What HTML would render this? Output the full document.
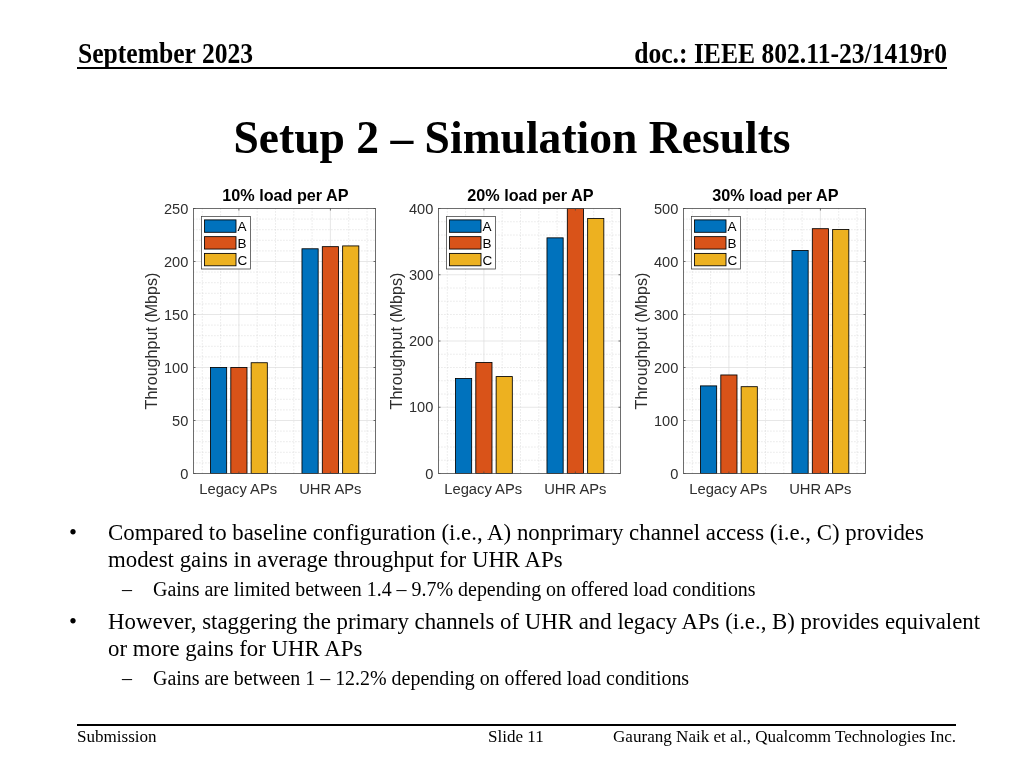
<!DOCTYPE html>
<html><head><meta charset="utf-8"><title>Setup 2 – Simulation Results</title>
<style>
html,body{margin:0;padding:0;background:#fff;}
body{width:1024px;height:768px;position:relative;overflow:hidden;font-family:"Liberation Serif",serif;color:#000;}
.abs{position:absolute;white-space:nowrap;}
.hdr{font-weight:bold;font-size:25.6px;line-height:28px;transform:scaleY(1.11);transform-origin:0 21.6px;}
#hl{left:78px;top:40.5px;}
#hr{right:77px;top:40.5px;}
#hline{left:77px;top:67.4px;width:870px;height:1.5px;background:#000;}
#title{left:0;width:1024px;text-align:center;top:112px;font-weight:bold;font-size:45.58px;line-height:52px;transform:scaleY(1.015);transform-origin:0 41px;}
.b1{font-size:22.84px;line-height:26px;}
.b2{font-size:19.95px;line-height:22px;}
#fline{left:77px;top:724.2px;width:879px;height:1.6px;background:#000;}
.ft{font-size:17.07px;line-height:18px;top:727.7px;}
svg{position:absolute;left:0;top:0;}
svg text{font-family:"Liberation Sans",sans-serif;fill:#2e2e2e;}
.mj{stroke:#dcdcdc;stroke-width:0.7;}
.mn{stroke:#c8c8c8;stroke-width:0.7;stroke-dasharray:0.9 2.1;}
.tk{stroke:#4a4a4a;stroke-width:0.8;}
.tl{font-size:14.6px;}
.xl{font-size:14.75px;}
.yl{font-size:16.1px;}
.tt{font-size:16.2px;font-weight:bold;fill:#000 !important;}
.lg{font-size:13.5px;fill:#000 !important;}
</style></head><body>
<div class="abs hdr" id="hl">September 2023</div>
<div class="abs hdr" id="hr">doc.: IEEE 802.11-23/1419r0</div>
<div class="abs" id="hline"></div>
<div class="abs" id="title">Setup 2 – Simulation Results</div>
<svg width="1024" height="768" viewBox="0 0 1024 768">
<rect x="193.5" y="208.5" width="182.0" height="265.0" fill="#fff"/>
<line x1="193.5" x2="375.5" y1="462.90" y2="462.90" class="mn"/>
<line x1="193.5" x2="375.5" y1="452.30" y2="452.30" class="mn"/>
<line x1="193.5" x2="375.5" y1="441.70" y2="441.70" class="mn"/>
<line x1="193.5" x2="375.5" y1="431.10" y2="431.10" class="mn"/>
<line x1="193.5" x2="375.5" y1="409.90" y2="409.90" class="mn"/>
<line x1="193.5" x2="375.5" y1="399.30" y2="399.30" class="mn"/>
<line x1="193.5" x2="375.5" y1="388.70" y2="388.70" class="mn"/>
<line x1="193.5" x2="375.5" y1="378.10" y2="378.10" class="mn"/>
<line x1="193.5" x2="375.5" y1="356.90" y2="356.90" class="mn"/>
<line x1="193.5" x2="375.5" y1="346.30" y2="346.30" class="mn"/>
<line x1="193.5" x2="375.5" y1="335.70" y2="335.70" class="mn"/>
<line x1="193.5" x2="375.5" y1="325.10" y2="325.10" class="mn"/>
<line x1="193.5" x2="375.5" y1="303.90" y2="303.90" class="mn"/>
<line x1="193.5" x2="375.5" y1="293.30" y2="293.30" class="mn"/>
<line x1="193.5" x2="375.5" y1="282.70" y2="282.70" class="mn"/>
<line x1="193.5" x2="375.5" y1="272.10" y2="272.10" class="mn"/>
<line x1="193.5" x2="375.5" y1="250.90" y2="250.90" class="mn"/>
<line x1="193.5" x2="375.5" y1="240.30" y2="240.30" class="mn"/>
<line x1="193.5" x2="375.5" y1="229.70" y2="229.70" class="mn"/>
<line x1="193.5" x2="375.5" y1="219.10" y2="219.10" class="mn"/>
<line x1="202.30" x2="202.30" y1="208.5" y2="473.5" class="mn"/>
<line x1="220.60" x2="220.60" y1="208.5" y2="473.5" class="mn"/>
<line x1="257.20" x2="257.20" y1="208.5" y2="473.5" class="mn"/>
<line x1="275.50" x2="275.50" y1="208.5" y2="473.5" class="mn"/>
<line x1="293.80" x2="293.80" y1="208.5" y2="473.5" class="mn"/>
<line x1="312.10" x2="312.10" y1="208.5" y2="473.5" class="mn"/>
<line x1="348.70" x2="348.70" y1="208.5" y2="473.5" class="mn"/>
<line x1="367.00" x2="367.00" y1="208.5" y2="473.5" class="mn"/>
<line x1="193.5" x2="375.5" y1="420.50" y2="420.50" class="mj"/>
<line x1="193.5" x2="375.5" y1="367.50" y2="367.50" class="mj"/>
<line x1="193.5" x2="375.5" y1="314.50" y2="314.50" class="mj"/>
<line x1="193.5" x2="375.5" y1="261.50" y2="261.50" class="mj"/>
<line x1="238.90" x2="238.90" y1="208.5" y2="473.5" class="mj"/>
<line x1="330.40" x2="330.40" y1="208.5" y2="473.5" class="mj"/>
<rect x="210.48" y="367.50" width="16.18" height="106.00" fill="#0072BD" stroke="#000" stroke-width="0.85"/>
<rect x="230.81" y="367.50" width="16.18" height="106.00" fill="#D95319" stroke="#000" stroke-width="0.85"/>
<rect x="251.14" y="362.73" width="16.18" height="110.77" fill="#EDB120" stroke="#000" stroke-width="0.85"/>
<rect x="301.98" y="248.78" width="16.18" height="224.72" fill="#0072BD" stroke="#000" stroke-width="0.85"/>
<rect x="322.31" y="246.66" width="16.18" height="226.84" fill="#D95319" stroke="#000" stroke-width="0.85"/>
<rect x="342.64" y="245.92" width="16.18" height="227.58" fill="#EDB120" stroke="#000" stroke-width="0.85"/>
<rect x="193.5" y="208.5" width="182.0" height="265.0" fill="none" stroke="#4a4a4a" stroke-width="0.8"/>
<line x1="193.5" x2="195.5" y1="473.50" y2="473.50" class="tk"/>
<line x1="375.5" x2="373.5" y1="473.50" y2="473.50" class="tk"/>
<text x="188.3" y="478.60" class="tl" text-anchor="end">0</text>
<line x1="193.5" x2="195.5" y1="420.50" y2="420.50" class="tk"/>
<line x1="375.5" x2="373.5" y1="420.50" y2="420.50" class="tk"/>
<text x="188.3" y="425.60" class="tl" text-anchor="end">50</text>
<line x1="193.5" x2="195.5" y1="367.50" y2="367.50" class="tk"/>
<line x1="375.5" x2="373.5" y1="367.50" y2="367.50" class="tk"/>
<text x="188.3" y="372.60" class="tl" text-anchor="end">100</text>
<line x1="193.5" x2="195.5" y1="314.50" y2="314.50" class="tk"/>
<line x1="375.5" x2="373.5" y1="314.50" y2="314.50" class="tk"/>
<text x="188.3" y="319.60" class="tl" text-anchor="end">150</text>
<line x1="193.5" x2="195.5" y1="261.50" y2="261.50" class="tk"/>
<line x1="375.5" x2="373.5" y1="261.50" y2="261.50" class="tk"/>
<text x="188.3" y="266.60" class="tl" text-anchor="end">200</text>
<line x1="193.5" x2="195.5" y1="208.50" y2="208.50" class="tk"/>
<line x1="375.5" x2="373.5" y1="208.50" y2="208.50" class="tk"/>
<text x="188.3" y="213.60" class="tl" text-anchor="end">250</text>
<line x1="238.90" x2="238.90" y1="473.5" y2="471.5" class="tk"/>
<line x1="238.90" x2="238.90" y1="208.5" y2="210.5" class="tk"/>
<text x="238.20" y="493.6" class="xl" text-anchor="middle">Legacy APs</text>
<line x1="330.40" x2="330.40" y1="473.5" y2="471.5" class="tk"/>
<line x1="330.40" x2="330.40" y1="208.5" y2="210.5" class="tk"/>
<text x="330.30" y="493.6" class="xl" text-anchor="middle">UHR APs</text>
<text transform="translate(157.0,341.0) rotate(-90)" class="yl" text-anchor="middle">Throughput (Mbps)</text>
<text x="285.40" y="200.9" class="tt" text-anchor="middle">10% load per AP</text>
<rect x="201.5" y="216.5" width="49" height="52.5" fill="#fff" stroke="#4a4a4a" stroke-width="0.8"/>
<rect x="204.5" y="219.90" width="31.5" height="12.4" fill="#0072BD" stroke="#000" stroke-width="0.85"/>
<text x="237.4" y="231.10" class="lg">A</text>
<rect x="204.5" y="236.65" width="31.5" height="12.4" fill="#D95319" stroke="#000" stroke-width="0.85"/>
<text x="237.4" y="247.85" class="lg">B</text>
<rect x="204.5" y="253.40" width="31.5" height="12.4" fill="#EDB120" stroke="#000" stroke-width="0.85"/>
<text x="237.4" y="264.60" class="lg">C</text>
<rect x="438.5" y="208.5" width="182.0" height="265.0" fill="#fff"/>
<line x1="438.5" x2="620.5" y1="460.25" y2="460.25" class="mn"/>
<line x1="438.5" x2="620.5" y1="447.00" y2="447.00" class="mn"/>
<line x1="438.5" x2="620.5" y1="433.75" y2="433.75" class="mn"/>
<line x1="438.5" x2="620.5" y1="420.50" y2="420.50" class="mn"/>
<line x1="438.5" x2="620.5" y1="394.00" y2="394.00" class="mn"/>
<line x1="438.5" x2="620.5" y1="380.75" y2="380.75" class="mn"/>
<line x1="438.5" x2="620.5" y1="367.50" y2="367.50" class="mn"/>
<line x1="438.5" x2="620.5" y1="354.25" y2="354.25" class="mn"/>
<line x1="438.5" x2="620.5" y1="327.75" y2="327.75" class="mn"/>
<line x1="438.5" x2="620.5" y1="314.50" y2="314.50" class="mn"/>
<line x1="438.5" x2="620.5" y1="301.25" y2="301.25" class="mn"/>
<line x1="438.5" x2="620.5" y1="288.00" y2="288.00" class="mn"/>
<line x1="438.5" x2="620.5" y1="261.50" y2="261.50" class="mn"/>
<line x1="438.5" x2="620.5" y1="248.25" y2="248.25" class="mn"/>
<line x1="438.5" x2="620.5" y1="235.00" y2="235.00" class="mn"/>
<line x1="438.5" x2="620.5" y1="221.75" y2="221.75" class="mn"/>
<line x1="447.30" x2="447.30" y1="208.5" y2="473.5" class="mn"/>
<line x1="465.60" x2="465.60" y1="208.5" y2="473.5" class="mn"/>
<line x1="502.20" x2="502.20" y1="208.5" y2="473.5" class="mn"/>
<line x1="520.50" x2="520.50" y1="208.5" y2="473.5" class="mn"/>
<line x1="538.80" x2="538.80" y1="208.5" y2="473.5" class="mn"/>
<line x1="557.10" x2="557.10" y1="208.5" y2="473.5" class="mn"/>
<line x1="593.70" x2="593.70" y1="208.5" y2="473.5" class="mn"/>
<line x1="612.00" x2="612.00" y1="208.5" y2="473.5" class="mn"/>
<line x1="438.5" x2="620.5" y1="407.25" y2="407.25" class="mj"/>
<line x1="438.5" x2="620.5" y1="341.00" y2="341.00" class="mj"/>
<line x1="438.5" x2="620.5" y1="274.75" y2="274.75" class="mj"/>
<line x1="483.90" x2="483.90" y1="208.5" y2="473.5" class="mj"/>
<line x1="575.40" x2="575.40" y1="208.5" y2="473.5" class="mj"/>
<rect x="455.48" y="378.56" width="16.18" height="94.94" fill="#0072BD" stroke="#000" stroke-width="0.85"/>
<rect x="475.81" y="362.53" width="16.18" height="110.97" fill="#D95319" stroke="#000" stroke-width="0.85"/>
<rect x="496.14" y="376.58" width="16.18" height="96.92" fill="#EDB120" stroke="#000" stroke-width="0.85"/>
<rect x="546.98" y="237.85" width="16.18" height="235.65" fill="#0072BD" stroke="#000" stroke-width="0.85"/>
<rect x="567.31" y="208.50" width="16.18" height="265.00" fill="#D95319" stroke="#000" stroke-width="0.85"/>
<rect x="587.64" y="218.50" width="16.18" height="255.00" fill="#EDB120" stroke="#000" stroke-width="0.85"/>
<rect x="438.5" y="208.5" width="182.0" height="265.0" fill="none" stroke="#4a4a4a" stroke-width="0.8"/>
<line x1="438.5" x2="440.5" y1="473.50" y2="473.50" class="tk"/>
<line x1="620.5" x2="618.5" y1="473.50" y2="473.50" class="tk"/>
<text x="433.3" y="478.60" class="tl" text-anchor="end">0</text>
<line x1="438.5" x2="440.5" y1="407.25" y2="407.25" class="tk"/>
<line x1="620.5" x2="618.5" y1="407.25" y2="407.25" class="tk"/>
<text x="433.3" y="412.35" class="tl" text-anchor="end">100</text>
<line x1="438.5" x2="440.5" y1="341.00" y2="341.00" class="tk"/>
<line x1="620.5" x2="618.5" y1="341.00" y2="341.00" class="tk"/>
<text x="433.3" y="346.10" class="tl" text-anchor="end">200</text>
<line x1="438.5" x2="440.5" y1="274.75" y2="274.75" class="tk"/>
<line x1="620.5" x2="618.5" y1="274.75" y2="274.75" class="tk"/>
<text x="433.3" y="279.85" class="tl" text-anchor="end">300</text>
<line x1="438.5" x2="440.5" y1="208.50" y2="208.50" class="tk"/>
<line x1="620.5" x2="618.5" y1="208.50" y2="208.50" class="tk"/>
<text x="433.3" y="213.60" class="tl" text-anchor="end">400</text>
<line x1="483.90" x2="483.90" y1="473.5" y2="471.5" class="tk"/>
<line x1="483.90" x2="483.90" y1="208.5" y2="210.5" class="tk"/>
<text x="483.20" y="493.6" class="xl" text-anchor="middle">Legacy APs</text>
<line x1="575.40" x2="575.40" y1="473.5" y2="471.5" class="tk"/>
<line x1="575.40" x2="575.40" y1="208.5" y2="210.5" class="tk"/>
<text x="575.30" y="493.6" class="xl" text-anchor="middle">UHR APs</text>
<text transform="translate(402.0,341.0) rotate(-90)" class="yl" text-anchor="middle">Throughput (Mbps)</text>
<text x="530.40" y="200.9" class="tt" text-anchor="middle">20% load per AP</text>
<rect x="446.5" y="216.5" width="49" height="52.5" fill="#fff" stroke="#4a4a4a" stroke-width="0.8"/>
<rect x="449.5" y="219.90" width="31.5" height="12.4" fill="#0072BD" stroke="#000" stroke-width="0.85"/>
<text x="482.4" y="231.10" class="lg">A</text>
<rect x="449.5" y="236.65" width="31.5" height="12.4" fill="#D95319" stroke="#000" stroke-width="0.85"/>
<text x="482.4" y="247.85" class="lg">B</text>
<rect x="449.5" y="253.40" width="31.5" height="12.4" fill="#EDB120" stroke="#000" stroke-width="0.85"/>
<text x="482.4" y="264.60" class="lg">C</text>
<rect x="683.5" y="208.5" width="182.0" height="265.0" fill="#fff"/>
<line x1="683.5" x2="865.5" y1="462.90" y2="462.90" class="mn"/>
<line x1="683.5" x2="865.5" y1="452.30" y2="452.30" class="mn"/>
<line x1="683.5" x2="865.5" y1="441.70" y2="441.70" class="mn"/>
<line x1="683.5" x2="865.5" y1="431.10" y2="431.10" class="mn"/>
<line x1="683.5" x2="865.5" y1="409.90" y2="409.90" class="mn"/>
<line x1="683.5" x2="865.5" y1="399.30" y2="399.30" class="mn"/>
<line x1="683.5" x2="865.5" y1="388.70" y2="388.70" class="mn"/>
<line x1="683.5" x2="865.5" y1="378.10" y2="378.10" class="mn"/>
<line x1="683.5" x2="865.5" y1="356.90" y2="356.90" class="mn"/>
<line x1="683.5" x2="865.5" y1="346.30" y2="346.30" class="mn"/>
<line x1="683.5" x2="865.5" y1="335.70" y2="335.70" class="mn"/>
<line x1="683.5" x2="865.5" y1="325.10" y2="325.10" class="mn"/>
<line x1="683.5" x2="865.5" y1="303.90" y2="303.90" class="mn"/>
<line x1="683.5" x2="865.5" y1="293.30" y2="293.30" class="mn"/>
<line x1="683.5" x2="865.5" y1="282.70" y2="282.70" class="mn"/>
<line x1="683.5" x2="865.5" y1="272.10" y2="272.10" class="mn"/>
<line x1="683.5" x2="865.5" y1="250.90" y2="250.90" class="mn"/>
<line x1="683.5" x2="865.5" y1="240.30" y2="240.30" class="mn"/>
<line x1="683.5" x2="865.5" y1="229.70" y2="229.70" class="mn"/>
<line x1="683.5" x2="865.5" y1="219.10" y2="219.10" class="mn"/>
<line x1="692.30" x2="692.30" y1="208.5" y2="473.5" class="mn"/>
<line x1="710.60" x2="710.60" y1="208.5" y2="473.5" class="mn"/>
<line x1="747.20" x2="747.20" y1="208.5" y2="473.5" class="mn"/>
<line x1="765.50" x2="765.50" y1="208.5" y2="473.5" class="mn"/>
<line x1="783.80" x2="783.80" y1="208.5" y2="473.5" class="mn"/>
<line x1="802.10" x2="802.10" y1="208.5" y2="473.5" class="mn"/>
<line x1="838.70" x2="838.70" y1="208.5" y2="473.5" class="mn"/>
<line x1="857.00" x2="857.00" y1="208.5" y2="473.5" class="mn"/>
<line x1="683.5" x2="865.5" y1="420.50" y2="420.50" class="mj"/>
<line x1="683.5" x2="865.5" y1="367.50" y2="367.50" class="mj"/>
<line x1="683.5" x2="865.5" y1="314.50" y2="314.50" class="mj"/>
<line x1="683.5" x2="865.5" y1="261.50" y2="261.50" class="mj"/>
<line x1="728.90" x2="728.90" y1="208.5" y2="473.5" class="mj"/>
<line x1="820.40" x2="820.40" y1="208.5" y2="473.5" class="mj"/>
<rect x="700.48" y="385.89" width="16.18" height="87.61" fill="#0072BD" stroke="#000" stroke-width="0.85"/>
<rect x="720.81" y="374.97" width="16.18" height="98.53" fill="#D95319" stroke="#000" stroke-width="0.85"/>
<rect x="741.14" y="386.69" width="16.18" height="86.81" fill="#EDB120" stroke="#000" stroke-width="0.85"/>
<rect x="791.98" y="250.48" width="16.18" height="223.02" fill="#0072BD" stroke="#000" stroke-width="0.85"/>
<rect x="812.31" y="228.69" width="16.18" height="244.81" fill="#D95319" stroke="#000" stroke-width="0.85"/>
<rect x="832.64" y="229.44" width="16.18" height="244.06" fill="#EDB120" stroke="#000" stroke-width="0.85"/>
<rect x="683.5" y="208.5" width="182.0" height="265.0" fill="none" stroke="#4a4a4a" stroke-width="0.8"/>
<line x1="683.5" x2="685.5" y1="473.50" y2="473.50" class="tk"/>
<line x1="865.5" x2="863.5" y1="473.50" y2="473.50" class="tk"/>
<text x="678.3" y="478.60" class="tl" text-anchor="end">0</text>
<line x1="683.5" x2="685.5" y1="420.50" y2="420.50" class="tk"/>
<line x1="865.5" x2="863.5" y1="420.50" y2="420.50" class="tk"/>
<text x="678.3" y="425.60" class="tl" text-anchor="end">100</text>
<line x1="683.5" x2="685.5" y1="367.50" y2="367.50" class="tk"/>
<line x1="865.5" x2="863.5" y1="367.50" y2="367.50" class="tk"/>
<text x="678.3" y="372.60" class="tl" text-anchor="end">200</text>
<line x1="683.5" x2="685.5" y1="314.50" y2="314.50" class="tk"/>
<line x1="865.5" x2="863.5" y1="314.50" y2="314.50" class="tk"/>
<text x="678.3" y="319.60" class="tl" text-anchor="end">300</text>
<line x1="683.5" x2="685.5" y1="261.50" y2="261.50" class="tk"/>
<line x1="865.5" x2="863.5" y1="261.50" y2="261.50" class="tk"/>
<text x="678.3" y="266.60" class="tl" text-anchor="end">400</text>
<line x1="683.5" x2="685.5" y1="208.50" y2="208.50" class="tk"/>
<line x1="865.5" x2="863.5" y1="208.50" y2="208.50" class="tk"/>
<text x="678.3" y="213.60" class="tl" text-anchor="end">500</text>
<line x1="728.90" x2="728.90" y1="473.5" y2="471.5" class="tk"/>
<line x1="728.90" x2="728.90" y1="208.5" y2="210.5" class="tk"/>
<text x="728.20" y="493.6" class="xl" text-anchor="middle">Legacy APs</text>
<line x1="820.40" x2="820.40" y1="473.5" y2="471.5" class="tk"/>
<line x1="820.40" x2="820.40" y1="208.5" y2="210.5" class="tk"/>
<text x="820.30" y="493.6" class="xl" text-anchor="middle">UHR APs</text>
<text transform="translate(647.0,341.0) rotate(-90)" class="yl" text-anchor="middle">Throughput (Mbps)</text>
<text x="775.40" y="200.9" class="tt" text-anchor="middle">30% load per AP</text>
<rect x="691.5" y="216.5" width="49" height="52.5" fill="#fff" stroke="#4a4a4a" stroke-width="0.8"/>
<rect x="694.5" y="219.90" width="31.5" height="12.4" fill="#0072BD" stroke="#000" stroke-width="0.85"/>
<text x="727.4" y="231.10" class="lg">A</text>
<rect x="694.5" y="236.65" width="31.5" height="12.4" fill="#D95319" stroke="#000" stroke-width="0.85"/>
<text x="727.4" y="247.85" class="lg">B</text>
<rect x="694.5" y="253.40" width="31.5" height="12.4" fill="#EDB120" stroke="#000" stroke-width="0.85"/>
<text x="727.4" y="264.60" class="lg">C</text>
</svg>
<div class="abs b1" style="left:69px;top:519.5px;">•</div>
<div class="abs b1" style="left:108px;top:519.5px;">Compared to baseline configuration (i.e., A) nonprimary channel access (i.e., C) provides</div>
<div class="abs b1" style="left:108px;top:546.8px;">modest gains in average throughput for UHR APs</div>
<div class="abs b2" style="left:122px;top:578px;">–</div>
<div class="abs b2" style="left:153px;top:578px;">Gains are limited between 1.4 – 9.7% depending on offered load conditions</div>
<div class="abs b1" style="left:69px;top:608.5px;">•</div>
<div class="abs b1" style="left:108px;top:608.5px;">However, staggering the primary channels of UHR and legacy APs (i.e., B) provides equivalent</div>
<div class="abs b1" style="left:108px;top:635.6px;">or more gains for UHR APs</div>
<div class="abs b2" style="left:122px;top:667px;">–</div>
<div class="abs b2" style="left:153px;top:667px;">Gains are between 1 – 12.2% depending on offered load conditions</div>
<div class="abs" id="fline"></div>
<div class="abs ft" style="left:77px;">Submission</div>
<div class="abs ft" style="left:488px;">Slide 11</div>
<div class="abs ft" style="right:68px;">Gaurang Naik et al., Qualcomm Technologies Inc.</div>
</body></html>
